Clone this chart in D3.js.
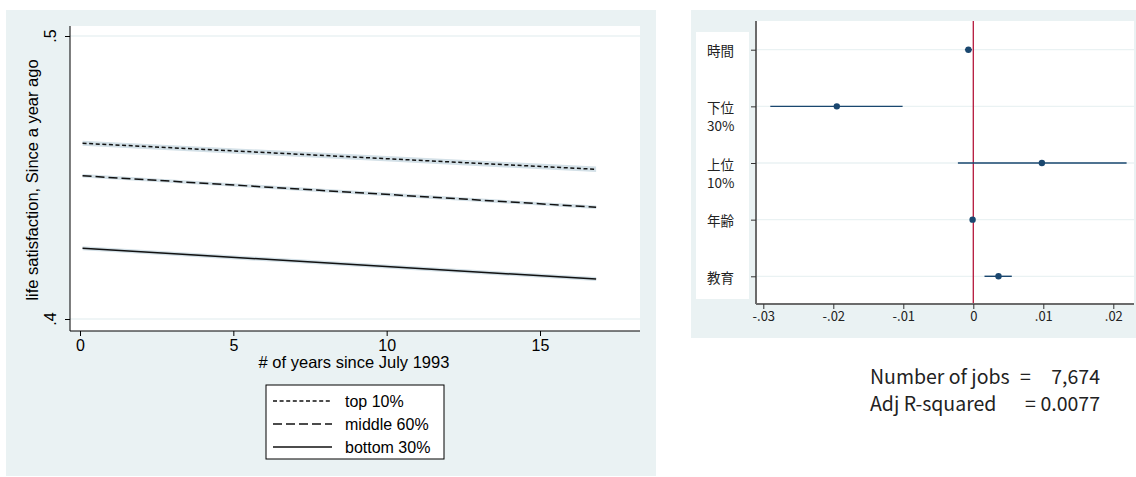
<!DOCTYPE html>
<html>
<head>
<meta charset="utf-8">
<script src="https://cdn.jsdelivr.net/npm/d3@7/dist/d3.min.js"></script>
<style>
  html, body { margin: 0; padding: 0; background: #ffffff; }
  svg { display: block; }
</style>
</head>
<body>
<svg id="chart" width="1136" height="477"></svg>
<script>
// ---- Left panel: predicted life satisfaction by income group ----
const years = [0.083, 16.83];
const top10 = [0.4621, 0.4529];
const top10Lo = [0.4612, 0.4519];
const top10Hi = [0.4630, 0.4539];
const mid60 = [0.4506, 0.4395];
const mid60Lo = [0.4500, 0.4389];
const mid60Hi = [0.4512, 0.4401];
const bot30 = [0.4250, 0.4141];
const bot30Lo = [0.4243, 0.4134];
const bot30Hi = [0.4257, 0.4148];
const seriesNames = ["top 10%", "middle 60%", "bottom 30%"];
const yTicksLeft = [0.4, 0.5];
const yTickLabelsLeft = [".4", ".5"];
const xTicksLeft = [0, 5, 10, 15];

// ---- Right panel: regression coefficients with confidence intervals ----
const coefNames = ["時間", "下位\n30%", "上位\n10%", "年齢", "教育"];
const coefEst = [-0.0007, -0.0195, 0.0098, -0.0001, 0.0036];
const coefLo = [-0.0012, -0.0290, -0.0022, -0.0003, 0.0016];
const coefHi = [-0.0002, -0.0101, 0.0219, 0.0001, 0.0055];
const xTicksRight = [-0.03, -0.02, -0.01, 0, 0.01, 0.02];
const xTickLabelsRight = ["-.03", "-.02", "-.01", "0", ".01", ".02"];
const statLabels = ["Number of jobs", "Adj R-squared"];
const statValues = ["7,674", "0.0077"];

const svg = d3.select("#chart");
const BG = "#eaf2f3";
const NAVY = "#1a476f";
const latin = "'Liberation Sans', Arial, Helvetica, sans-serif";
const jp = "'Noto Sans CJK JP', 'Noto Sans', sans-serif";

// ===== Left panel =====
const L = svg.append("g");
L.append("rect").attr("x", 6).attr("y", 10).attr("width", 650).attr("height", 466).attr("fill", BG);
L.append("rect").attr("x", 70).attr("y", 26).attr("width", 570).attr("height", 305).attr("fill", "#fff");

const xL = d3.scaleLinear().domain([0, 15]).range([80, 540]);
const yL = d3.scaleLinear().domain([0.4, 0.5]).range([319, 36]);

// horizontal grid lines
L.selectAll("line.grid").data(yTicksLeft).join("line")
  .attr("x1", 70).attr("x2", 640)
  .attr("y1", d => yL(d)).attr("y2", d => yL(d))
  .attr("stroke", BG).attr("stroke-width", 1.5);

const series = [
  { y: top10, lo: top10Lo, hi: top10Hi, dash: "4,2.6" },
  { y: mid60, lo: mid60Lo, hi: mid60Hi, dash: "9,4" },
  { y: bot30, lo: bot30Lo, hi: bot30Hi, dash: null }
];

const area = d3.area().x(d => xL(d.x)).y0(d => yL(d.lo)).y1(d => yL(d.hi));
const line = d3.line().x(d => xL(d.x)).y(d => yL(d.y));

series.forEach(s => {
  const pts = years.map((x, i) => ({ x, y: s.y[i], lo: s.lo[i], hi: s.hi[i] }));
  L.append("path").attr("d", area(pts)).attr("fill", "#d3e0e7");
  const p = L.append("path").attr("d", line(pts)).attr("fill", "none")
    .attr("stroke", "#111").attr("stroke-width", 1.5);
  if (s.dash) p.attr("stroke-dasharray", s.dash);
});

// y axis
const yAxisL = L.append("g").attr("transform", "translate(70,0)")
  .call(d3.axisLeft(yL).tickValues(yTicksLeft).tickSize(5).tickFormat(""));
yAxisL.select(".domain").attr("d", "M0,26V331").attr("stroke", "#000");
yAxisL.selectAll(".tick line").attr("stroke", "#000");
L.selectAll("text.ytl").data(yTicksLeft).join("text")
  .attr("transform", d => `translate(56,${yL(d)}) rotate(-90)`)
  .attr("text-anchor", "middle")
  .attr("font-family", latin).attr("font-size", 16).attr("fill", "#000")
  .text((d, i) => yTickLabelsLeft[i]);

// x axis
const xAxisL = L.append("g").attr("transform", "translate(0,331)")
  .call(d3.axisBottom(xL).tickValues(xTicksLeft).tickSize(5).tickFormat(d3.format("d")));
xAxisL.select(".domain").attr("d", "M70,0H640").attr("stroke", "#000");
xAxisL.selectAll(".tick line").attr("stroke", "#000");
xAxisL.selectAll(".tick text").attr("y", 9).attr("dy", "0.71em")
  .attr("font-family", latin).attr("font-size", 16).attr("fill", "#000");

L.append("text").attr("x", 354).attr("y", 368).attr("text-anchor", "middle")
  .attr("font-family", latin).attr("font-size", 16.5).attr("fill", "#000")
  .text("# of years since July 1993");
L.append("text").attr("transform", "translate(38,180) rotate(-90)")
  .attr("text-anchor", "middle")
  .attr("font-family", latin).attr("font-size", 16.5).attr("fill", "#000")
  .text("life satisfaction, Since a year ago");

// legend
const leg = L.append("g");
leg.append("rect").attr("x", 266).attr("y", 385).attr("width", 178).attr("height", 74)
  .attr("fill", "#fff").attr("stroke", "#000").attr("stroke-width", 1);
const legY = d3.scalePoint().domain(seriesNames).range([401, 447]);
seriesNames.forEach((n, i) => {
  const ln = leg.append("line").attr("x1", 273).attr("x2", 332)
    .attr("y1", legY(n)).attr("y2", legY(n))
    .attr("stroke", "#111").attr("stroke-width", 1.3);
  if (series[i].dash) ln.attr("stroke-dasharray", series[i].dash);
  leg.append("text").attr("x", 345).attr("y", legY(n)).attr("dy", "0.35em")
    .attr("font-family", latin).attr("font-size", 16).attr("fill", "#000").text(n);
});

// ===== Right panel =====
const R = svg.append("g");
R.append("rect").attr("x", 691).attr("y", 10).attr("width", 445).attr("height", 328).attr("fill", BG);
R.append("rect").attr("x", 756).attr("y", 21).attr("width", 378).attr("height", 283).attr("fill", "#fff");
R.append("rect").attr("x", 696).attr("y", 32).attr("width", 53).attr("height", 267).attr("fill", "#fff");

const xR = d3.scaleLinear().domain([-0.03, 0.02]).range([763.3, 1113.3]);
const yR = d3.scalePoint().domain(coefNames).range([49.7, 276.3]);

R.selectAll("line.grid").data(coefNames).join("line")
  .attr("x1", 756).attr("x2", 1134)
  .attr("y1", d => yR(d)).attr("y2", d => yR(d))
  .attr("stroke", BG).attr("stroke-width", 1.3);

// reference line at zero
R.append("line").attr("x1", xR(0)).attr("x2", xR(0)).attr("y1", 21).attr("y2", 304)
  .attr("stroke", "#b5173b").attr("stroke-width", 1.3);

// confidence intervals and point estimates
R.selectAll("line.ci").data(coefNames).join("line")
  .attr("x1", (d, i) => xR(coefLo[i])).attr("x2", (d, i) => xR(coefHi[i]))
  .attr("y1", d => yR(d)).attr("y2", d => yR(d))
  .attr("stroke", NAVY).attr("stroke-width", 1.4);
R.selectAll("circle.pt").data(coefNames).join("circle")
  .attr("cx", (d, i) => xR(coefEst[i])).attr("cy", d => yR(d)).attr("r", 3.2)
  .attr("fill", NAVY);

// axes
const yAxisR = R.append("g").attr("transform", "translate(756,0)")
  .call(d3.axisLeft(yR).tickSize(5).tickFormat(""));
yAxisR.select(".domain").attr("d", "M0,21V304").attr("stroke", "#6b6b6b").attr("stroke-width", 2);
yAxisR.selectAll(".tick line").attr("stroke", "#333");

const xAxisR = R.append("g").attr("transform", "translate(0,304)")
  .call(d3.axisBottom(xR).tickValues(xTicksRight).tickSize(5)
    .tickFormat((d, i) => xTickLabelsRight[i]));
xAxisR.select(".domain").attr("d", "M756,0H1134").attr("stroke", "#6b6b6b").attr("stroke-width", 2);
xAxisR.selectAll(".tick line").attr("stroke", "#333");
xAxisR.selectAll(".tick text").attr("y", 8).attr("dy", "0.71em")
  .attr("font-family", jp).attr("font-size", 13).attr("fill", "#222");

// category labels (may span two lines)
coefNames.forEach(n => {
  n.split("\n").forEach((part, j) => {
    R.append("text").attr("x", 707).attr("y", yR(n) + 2 + j * 18).attr("dy", "0.35em")
      .attr("font-family", jp).attr("font-size", 13.5).attr("fill", "#222").text(part);
  });
});

// fit statistics
const statY = d3.scalePoint().domain(statLabels).range([384, 411]);
const eqX = [1020, 1025];
statLabels.forEach((s, i) => {
  R.append("text").attr("x", 870).attr("y", statY(s))
    .attr("font-family", jp).attr("font-size", 19.5).attr("fill", "#222").text(s);
  R.append("text").attr("x", eqX[i]).attr("y", statY(s))
    .attr("font-family", jp).attr("font-size", 19.5).attr("fill", "#222").text("=");
  R.append("text").attr("x", 1100).attr("y", statY(s)).attr("text-anchor", "end")
    .attr("font-family", jp).attr("font-size", 19.5).attr("fill", "#222").text(statValues[i]);
});
</script>
</body>
</html>
